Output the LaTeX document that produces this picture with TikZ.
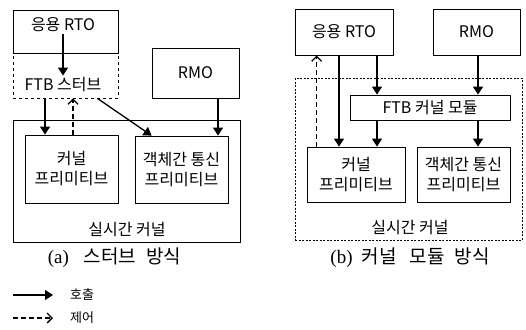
\documentclass[tikz,border=0pt]{standalone}
\usepackage{fontspec}
\setmainfont{Noto Sans CJK KR}
\newfontfamily\capserif{Liberation Serif}
\usetikzlibrary{arrows.meta}
\begin{document}
\begin{tikzpicture}[x=1pt,y=1pt,
  blk/.style={draw, line width=0.8pt, inner sep=0pt, align=center, font=\fontsize{16}{20}\selectfont},
  txt/.style={inner sep=2pt, font=\fontsize{16}{19}\selectfont},
  captext/.style={inner sep=0pt, font=\fontsize{19}{22}\selectfont},
  lgd/.style={inner sep=0pt, anchor=west, font=\fontsize{13}{15}\selectfont},
  call/.style={line width=1.3pt, -{Triangle[length=8pt,width=10pt]}},
  ctrl/.style={line width=1.3pt, dash pattern=on 5pt off 3pt, -{Straight Barb[length=5pt,width=10pt]}}]
\useasboundingbox (0,0) rectangle (526,-329);
% (a) stub
\node[blk, dashed, minimum width=105, minimum height=45] (stub) at (65.5,-75.5) {};
\node[blk, minimum width=105, minimum height=43] (rto) at (65.5,-31.5) {};
\node[txt] (rtotext) at (63,-25) {응용 RTO};
\node[txt] (stubtext) at (63,-85) {FTB 스터브};
\node[blk, minimum width=87, minimum height=50] (rmo) at (195.5,-73) {RMO};
\node[blk, minimum width=227, minimum height=122] (kernA) at (126.5,-181) {};
\node[txt] (kernAtext) at (127,-230) {실시간 커널};
\node[blk, minimum width=93, minimum height=68] (kprim) at (71.5,-169) {커널\\프리미티브};
\node[blk, minimum width=93, minimum height=67] (cprim) at (181.5,-169.5) {객체간 통신\\프리미티브};
\draw[call] (rtotext.south) -- (stubtext.north);
\draw[call] ([xshift=-20.5pt]stub.south) -- ([xshift=-20.5pt]stub.south |- kprim.north);
\draw[ctrl] ([xshift=1.5pt]kprim.north) -- ([xshift=1.5pt]kprim.north |- stub.south);
\draw[call] ([xshift=-21pt]stub.south east) -- ([xshift=17pt]cprim.north west);
\draw[call] ([xshift=22.5pt]rmo.south) -- ([xshift=22.5pt]rmo.south |- cprim.north);
\node[captext] (capA) at (114.5,-258) {{\capserif (a)}\hspace{15pt}스터브\hspace{10pt}방식};
% (b) kernel module
\node[blk, dashed, dash pattern=on 2pt off 1.5pt, minimum width=227, minimum height=162] (kernB) at (408.5,-159) {};
\node[txt] (kernBtext) at (410,-228) {실시간 커널};
\node[blk, minimum width=98, minimum height=46] (rtoB) at (344,-32) {응용 RTO};
\node[blk, minimum width=87, minimum height=46] (rmoB) at (476.5,-32) {RMO};
\node[blk, minimum width=160, minimum height=25] (ftb) at (430,-107.5) {FTB 커널 모듈};
\node[blk, minimum width=98, minimum height=55] (kprimB) at (356,-174.5) {커널\\프리미티브};
\node[blk, minimum width=93, minimum height=55] (cprimB) at (463.5,-174.5) {객체간 통신\\프리미티브};
\draw[call] ([xshift=-5pt]rtoB.south) -- ([xshift=-5pt]rtoB.south |- kprimB.north);
\draw[call] ([xshift=33pt]rtoB.south) -- ([xshift=33pt]rtoB.south |- ftb.north);
\draw[call] ([xshift=1.5pt]rmoB.south) -- ([xshift=1.5pt]rmoB.south |- ftb.north);
\draw[call] ([xshift=-53pt]ftb.south) -- ([xshift=-53pt]ftb.south |- kprimB.north);
\draw[call] ([xshift=48pt]ftb.south) -- ([xshift=48pt]ftb.south |- cprimB.north);
\draw[ctrl] ([xshift=10pt]kprimB.north west) -- ([xshift=10pt]kprimB.north west |- rtoB.south);
\node[captext] (capB) at (410,-258) {{\capserif (b)}\hspace{9pt}커널\hspace{13pt}모듈\hspace{10pt}방식};
% legend
\coordinate (callA) at (13,-295);
\coordinate (callB) at (53,-295);
\coordinate (ctrlA) at (13,-318);
\coordinate (ctrlB) at (53,-318);
\draw[call] (callA) -- (callB);
\draw[ctrl] (ctrlA) -- (ctrlB);
\node[lgd] (calltext) at (70,-295) {호출};
\node[lgd] (ctrltext) at (70,-318) {제어};
\end{tikzpicture}
\end{document}
